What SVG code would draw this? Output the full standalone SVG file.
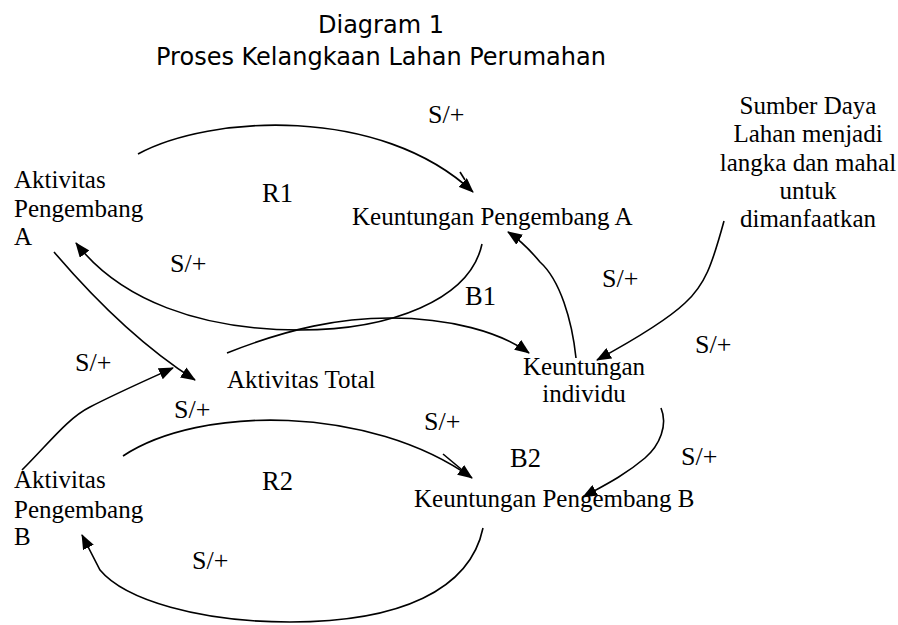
<svg xmlns="http://www.w3.org/2000/svg" width="898" height="625" viewBox="0 0 898 625">
<style>
.t{font-family:"Liberation Serif","Times New Roman",serif;font-size:25px;fill:#000}
.l{font-family:"Liberation Serif","Times New Roman",serif;font-size:26px;fill:#000}
.r{font-family:"Liberation Serif","Times New Roman",serif;font-size:26.5px;fill:#000}
.h{font-family:"DejaVu Sans",Verdana,sans-serif;font-size:24px;fill:#000}
.c{fill:none;stroke:#000;stroke-width:1.6}
</style>
<defs>
<marker id="ah" markerUnits="userSpaceOnUse" markerWidth="16" markerHeight="12" refX="14" refY="6" orient="auto">
<path d="M0,0 L15,6 L0,12 z" fill="#000"/>
</marker>
</defs>
<rect width="898" height="625" fill="#fff"/>
<g id="title">
<text class="h" x="381" y="33" text-anchor="middle">Diagram 1</text>
<text class="h" x="381" y="65" text-anchor="middle">Proses Kelangkaan Lahan Perumahan</text>
</g>
<g id="connectors">
<path class="c" d="M138,154 C210,115 380,105 473,192" marker-end="url(#ah)"/>
<line class="c" x1="460" y1="172" x2="465" y2="180"/>
<path class="c" d="M482,244 C470,300 390,330 300,330 C200,330 120,300 76,243" marker-end="url(#ah)"/>
<path class="c" d="M54,252 C95,300 140,345 195,380" marker-end="url(#ah)"/>
<path class="c" d="M22,470 C50,442 68,418 90,407 C115,394 140,383 173,368" marker-end="url(#ah)"/>
<path class="c" d="M227,353 C290,328 340,318 390,318 C450,318 500,332 529,353" marker-end="url(#ah)"/>
<path class="c" d="M576,358 C572,320 560,280 540,262 C530,250 520,240 508,232" marker-end="url(#ah)"/>
<path class="c" d="M724,221 C712,265 705,285 685,303 C665,322 630,342 597,360" marker-end="url(#ah)"/>
<path class="c" d="M123,456 C200,405 370,405 472,478" marker-end="url(#ah)"/>
<line class="c" x1="443" y1="454" x2="467" y2="474"/>
<path class="c" d="M483,528 C470,590 400,622 290,622 C200,622 125,600 100,570 L82,535" marker-end="url(#ah)"/>
<path class="c" d="M661,408 C668,425 660,445 645,458 C625,475 605,485 583,497" marker-end="url(#ah)"/>
</g>
<g id="node-aktivitas-a">
<text class="t" x="14" y="188">Aktivitas</text>
<text class="t" x="14" y="217">Pengembang</text>
<text class="t" x="14" y="245">A</text>
</g>
<g id="node-keuntungan-a"><text class="t" x="352" y="225">Keuntungan Pengembang A</text></g>
<g id="node-sumber">
<text class="t" x="808" y="114" text-anchor="middle">Sumber Daya</text>
<text class="t" x="808" y="142" text-anchor="middle">Lahan menjadi</text>
<text class="t" x="808" y="171" text-anchor="middle">langka dan mahal</text>
<text class="t" x="808" y="199" text-anchor="middle">untuk</text>
<text class="t" x="808" y="227" text-anchor="middle">dimanfaatkan</text>
</g>
<g id="node-keuntungan-individu">
<text class="t" x="584" y="375" text-anchor="middle">Keuntungan</text>
<text class="t" x="584" y="402" text-anchor="middle">individu</text>
</g>
<g id="node-aktivitas-total"><text class="t" x="227" y="388">Aktivitas Total</text></g>
<g id="node-keuntungan-b"><text class="t" x="414" y="507">Keuntungan Pengembang B</text></g>
<g id="node-aktivitas-b">
<text class="t" x="14" y="488">Aktivitas</text>
<text class="t" x="14" y="518">Pengembang</text>
<text class="t" x="14" y="545">B</text>
</g>
<g id="labels">
<text class="r" x="262" y="202">R1</text>
<text class="r" x="465" y="305">B1</text>
<text class="r" x="262" y="490">R2</text>
<text class="r" x="510" y="467">B2</text>
<text class="l" x="428" y="123">S/+</text>
<text class="l" x="170" y="272">S/+</text>
<text class="l" x="602" y="287">S/+</text>
<text class="l" x="695" y="353">S/+</text>
<text class="l" x="75" y="371">S/+</text>
<text class="l" x="174" y="418">S/+</text>
<text class="l" x="424" y="430">S/+</text>
<text class="l" x="681" y="465">S/+</text>
<text class="l" x="192" y="569">S/+</text>
</g>
</svg>
